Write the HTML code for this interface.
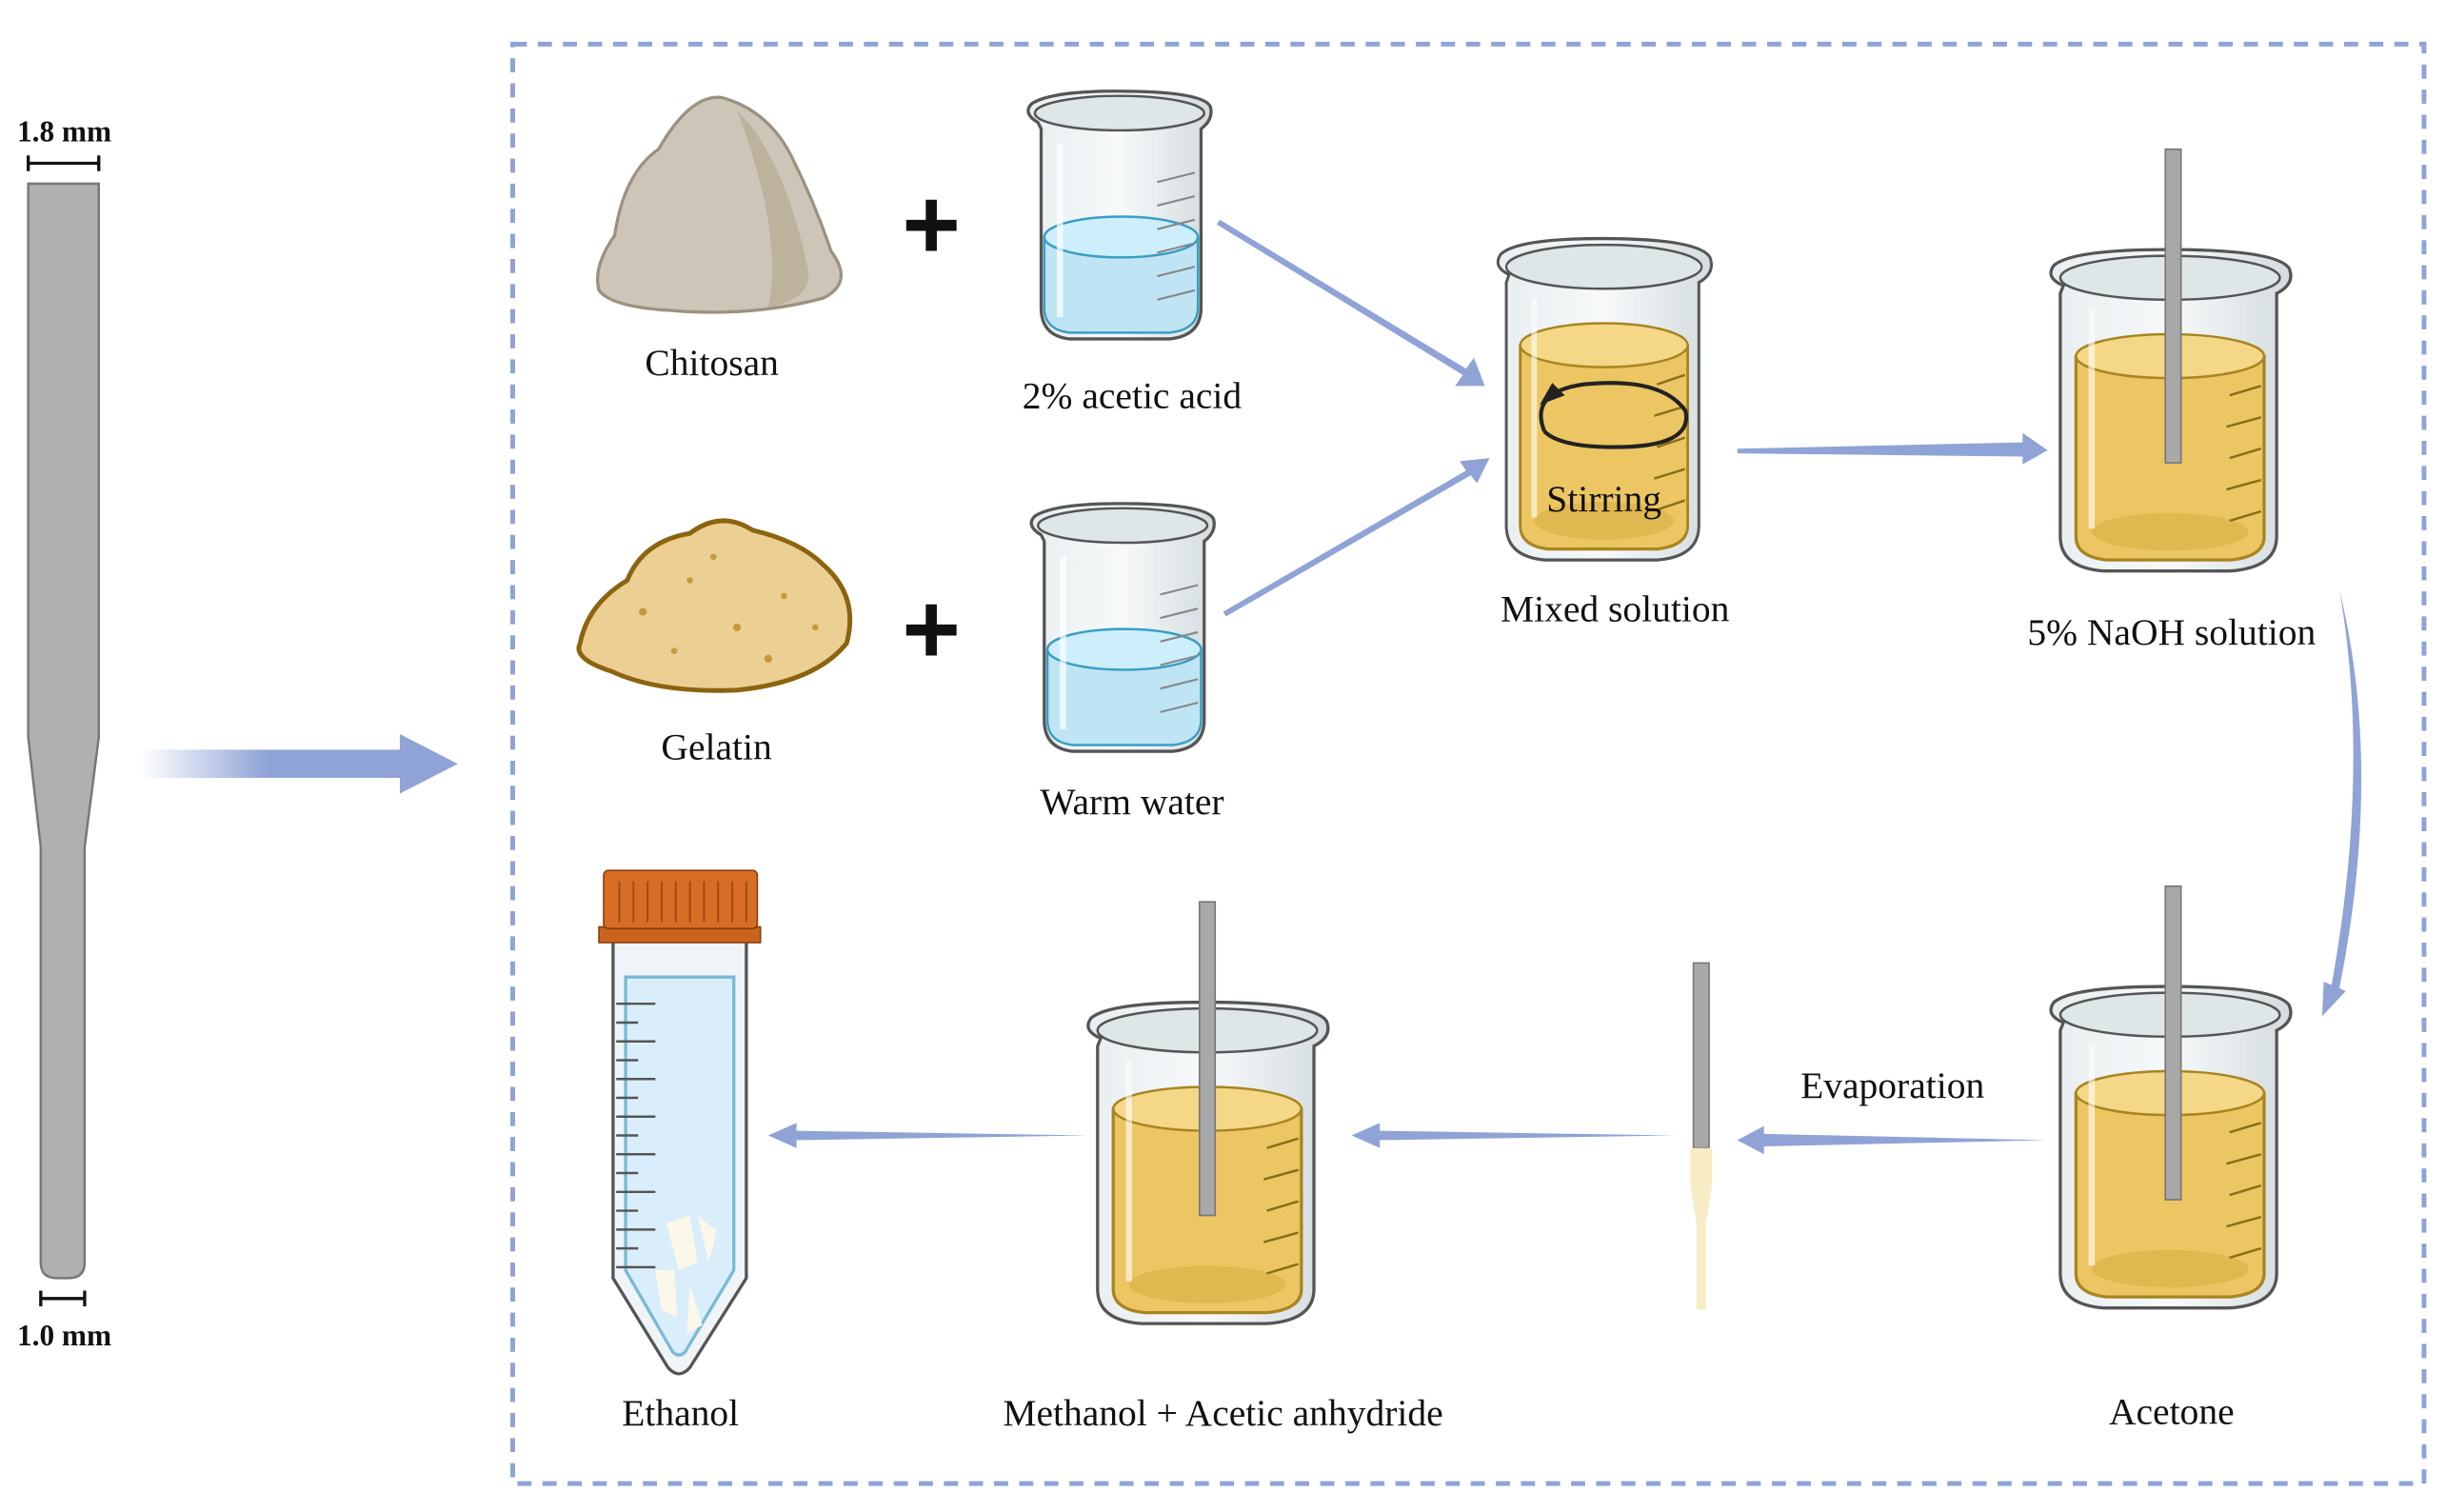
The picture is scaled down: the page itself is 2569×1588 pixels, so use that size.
<!DOCTYPE html>
<html><head><meta charset="utf-8"><style>
html,body{margin:0;padding:0;background:#fff}
svg{display:block}
text{font-family:"Liberation Serif",serif;fill:#111}
</style></head><body>
<svg width="2569" height="1588" viewBox="0 0 1560 964" xmlns="http://www.w3.org/2000/svg">
<defs>
<linearGradient id="ga" x1="0" x2="1"><stop offset="0" stop-color="#8fa3d6" stop-opacity="0"/><stop offset="0.4" stop-color="#8fa3d6"/><stop offset="1" stop-color="#8fa3d6"/></linearGradient>
<linearGradient id="glass" x1="0" x2="1"><stop offset="0" stop-color="#e8eef0"/><stop offset="0.5" stop-color="#f7f9fa"/><stop offset="1" stop-color="#d4dcdf"/></linearGradient>
<g id="bkY">
<path d="M14 25 Q2 20 8 12 Q20 2 80 2 Q150 2 158 14 Q162 24 150 30 L150 185 Q150 205 120 207 L40 207 Q12 205 12 185 L12 30 Z" fill="url(#glass)" stroke="#555" stroke-width="2"/>
<ellipse cx="82" cy="20" rx="70" ry="14" fill="#dfe6e8" stroke="#555" stroke-width="1.5"/>
<path d="M22 70 Q82 52 142 70 L142 185 Q142 198 120 200 L42 200 Q22 198 22 185 Z" fill="#ecc662" stroke="#a88520" stroke-width="2"/>
<ellipse cx="82" cy="70" rx="60" ry="14" fill="#f4d787" stroke="#a88520" stroke-width="1.5"/>
<ellipse cx="82" cy="182" rx="50" ry="12" fill="#e0b850"/>
<path d="M120 95 l20 -6 M118 115 l22 -6 M120 135 l20 -6 M118 155 l22 -6 M120 175 l20 -6" stroke="#8a6d1a" stroke-width="1.5"/>
<rect x="30" y="40" width="4" height="140" fill="#fff" opacity="0.6"/>
</g>
<g id="bkB">
<path d="M12 22 Q2 16 8 10 Q20 2 62 2 Q118 2 122 12 Q124 20 116 26 L116 140 Q116 158 96 160 L32 160 Q14 158 14 140 L14 26 Z" fill="url(#glass)" stroke="#555" stroke-width="2"/>
<ellipse cx="64" cy="16" rx="54" ry="11" fill="#dfe6e8" stroke="#555" stroke-width="1.5"/>
<path d="M16 95 Q64 82 114 95 L114 140 Q114 154 96 156 L32 156 Q16 154 16 140 Z" fill="#bfe5f5" stroke="#3a9ec4" stroke-width="1.5"/>
<ellipse cx="65" cy="95" rx="49" ry="13" fill="#cdeefb" stroke="#3a9ec4" stroke-width="1.5"/>
<path d="M88 60 l24 -6 M88 75 l24 -6 M88 90 l24 -6 M88 105 l24 -6 M88 120 l24 -6 M88 135 l24 -6" stroke="#888" stroke-width="1.3"/>
<rect x="24" y="36" width="4" height="110" fill="#fff" opacity="0.7"/>
</g>
</defs>

<rect x="327" y="28" width="1219" height="918" fill="none" stroke="#8fa3d6" stroke-width="3" stroke-dasharray="9 7"/>

<!-- rod -->
<path d="M18 117 L63 117 L63 470 L54 540 L54 805 Q54 815 44 815 L36 815 Q26 815 26 805 L26 540 L18 470 Z" fill="#b0b0b0" stroke="#777" stroke-width="1.5"/>
<text x="41" y="90" font-size="19" font-weight="bold" text-anchor="middle">1.8 mm</text>
<path d="M18 104 H63 M18 99 V109 M63 99 V109" stroke="#111" stroke-width="2"/>
<path d="M26 828 H54 M26 823 V833 M54 823 V833" stroke="#111" stroke-width="2"/>
<text x="41" y="858" font-size="19" font-weight="bold" text-anchor="middle">1.0 mm</text>
<path d="M90 478 H255 V468 L292 487 L255 506 V496 H90 Z" fill="url(#ga)"/>

<!-- chitosan -->
<path d="M382 185 Q378 170 392 150 Q398 110 420 95 Q440 60 460 62 Q490 70 505 100 Q520 130 530 160 Q545 180 525 190 Q480 202 430 198 Q390 196 382 185 Z" fill="#cdc6b8" stroke="#9b927f" stroke-width="2"/>
<path d="M470 70 Q500 100 515 170 Q520 190 490 196 Q500 150 470 70Z" fill="#bdb29c"/>
<text x="454" y="239" font-size="24" text-anchor="middle">Chitosan</text>
<text x="594" y="165" font-size="64" font-weight="bold" text-anchor="middle" style="font-family:'Liberation Sans',sans-serif">+</text>
<text x="594" y="423" font-size="64" font-weight="bold" text-anchor="middle" style="font-family:'Liberation Sans',sans-serif">+</text>

<!-- gelatin -->
<path d="M370 410 Q375 385 400 370 Q410 345 440 340 Q460 325 480 338 Q510 345 525 360 Q548 380 540 410 Q520 435 470 440 Q420 442 390 428 Q365 420 370 410 Z" fill="#ebcf93" stroke="#8c6410" stroke-width="3"/>
<g fill="#c59a3e"><circle cx="410" cy="390" r="2.5"/><circle cx="440" cy="370" r="2"/><circle cx="470" cy="400" r="2.5"/><circle cx="500" cy="380" r="2"/><circle cx="430" cy="415" r="2"/><circle cx="490" cy="420" r="2.5"/><circle cx="455" cy="355" r="2"/><circle cx="520" cy="400" r="2"/></g>
<text x="457" y="484" font-size="24" text-anchor="middle">Gelatin</text>

<use href="#bkB" transform="translate(650,56)"/>
<text x="722" y="260" font-size="24" text-anchor="middle">2%  acetic acid</text>
<use href="#bkB" transform="translate(652,319)"/>
<text x="722" y="519" font-size="24" text-anchor="middle">Warm water</text>

<!-- arrows -->
<g fill="#8fa3d6" stroke="none">
<path d="M778 140 L935 235 L940 228 L947 246 L928 246 L933 239 L776 143 Z"/>
<path d="M780 390 L935 300 L931 294 L950 292 L942 308 L938 303 L782 393 Z"/>
<path d="M1108 286 L1290 282 L1290 276 L1306 287 L1290 296 L1290 291 L1108 289 Z"/>
<path d="M1305 727 L1125 731 L1125 736 L1108 727 L1125 718 L1125 723 Z"/>
<path d="M1068 724 L880 727 L880 732 L862 724 L880 716 L880 721 Z"/>
<path d="M694 724 L508 727 L508 732 L490 724 L508 716 L508 721 Z"/>
<path d="M1492 376 Q1520 490 1492 630 L1496 632 L1481 648 L1482 626 L1487 628 Q1512 490 1492 376 Z"/>
</g>

<!-- mixed -->
<use href="#bkY" transform="translate(950,150) scale(0.89,1)"/>
<path d="M985 275 Q975 250 1010 245 Q1060 240 1075 262 Q1080 285 1030 285 Q995 285 985 275" fill="none" stroke="#222" stroke-width="2.5"/>
<path d="M982 258 L990 244 L998 252 Z" fill="#222"/>
<text x="1023" y="326" font-size="24" text-anchor="middle">Stirring</text>
<text x="1030" y="396" font-size="24" text-anchor="middle">Mixed solution</text>

<!-- NaOH -->
<use href="#bkY" transform="translate(1302,157)"/>
<rect x="1381" y="95" width="10" height="200" fill="#a8a8a8" stroke="#777"/>
<text x="1385" y="411" font-size="24" text-anchor="middle">5% NaOH solution</text>

<!-- acetone -->
<use href="#bkY" transform="translate(1302,627)"/>
<rect x="1381" y="565" width="10" height="200" fill="#a8a8a8" stroke="#777"/>
<text x="1385" y="908" font-size="24" text-anchor="middle">Acetone</text>
<text x="1207" y="700" font-size="24" text-anchor="middle">Evaporation</text>

<!-- thin rod -->
<rect x="1080" y="614" width="10" height="118" fill="#a8a8a8" stroke="#777"/>
<path d="M1078 732 H1092 V755 L1088 780 V835 H1082 V780 L1078 755 Z" fill="#f8ecc4"/>

<!-- methanol -->
<use href="#bkY" transform="translate(688,637)"/>
<rect x="765" y="575" width="10" height="200" fill="#a8a8a8" stroke="#777"/>
<text x="780" y="909" font-size="24" text-anchor="middle">Methanol + Acetic anhydride</text>

<!-- tube -->
<path d="M391 600 L476 600 L476 815 L440 872 Q433 880 426 872 L391 815 Z" fill="#eef4f8" stroke="#555" stroke-width="2"/>
<path d="M399 623 L468 623 L468 810 L437 862 Q433 866 429 862 L399 810 Z" fill="#d9eefa" stroke="#7ab9d6" stroke-width="2"/>
<g stroke="#555" stroke-width="1.5"><path d="M393 640 h25 M393 664 h25 M393 688 h25 M393 712 h25 M393 736 h25 M393 760 h25 M393 784 h25 M393 808 h25"/><path d="M393 652 h14 M393 676 h14 M393 700 h14 M393 724 h14 M393 748 h14 M393 772 h14 M393 796 h14"/></g>
<path d="M425 780 l15 -5 l5 30 l-12 5Z M445 775 l12 10 l-5 20Z M418 810 l12 0 l2 30 l-10 -5Z M440 820 l8 25 l-10 5Z" fill="#fbf8ea"/>
<rect x="382" y="591" width="103" height="10" fill="#c9631e" stroke="#8a3f0e"/>
<rect x="385" y="555" width="98" height="37" rx="3" fill="#d86d25" stroke="#8a3f0e"/>
<path d="M395 562 V588 M404 562 V588 M413 562 V588 M422 562 V588 M431 562 V588 M440 562 V588 M449 562 V588 M458 562 V588 M467 562 V588 M476 562 V588" stroke="#a34b12" stroke-width="1.2"/>
<text x="434" y="909" font-size="24" text-anchor="middle">Ethanol</text>
</svg>
</body></html>
